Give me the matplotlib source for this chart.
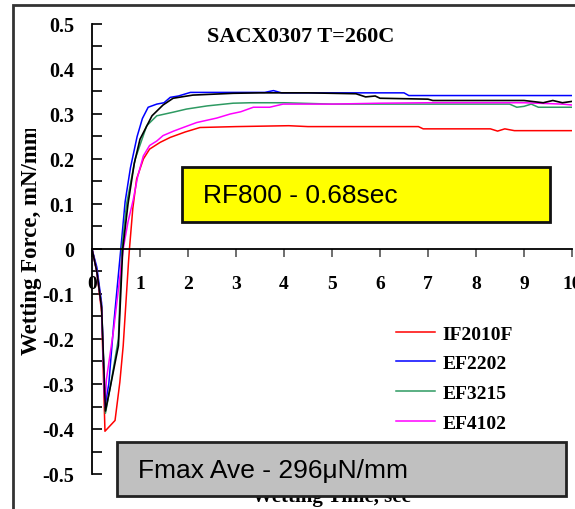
"""Wetting balance curves, SACX0307 at 260C."""
import numpy as np
import matplotlib
matplotlib.use('Agg')
import matplotlib.pyplot as plt
import matplotlib.patches as mpatches
from matplotlib.transforms import Bbox, TransformedBbox

SERIF = 'Liberation Serif'
SANS = 'Liberation Sans'

# ── data (time s, force mN/mm) ────────────────────────────────────────────────
t_if2010f = [0, 0.1, 0.2, 0.27, 0.48, 0.58, 0.65, 0.76, 0.78, 0.85, 0.93, 1.07,
             1.2, 1.42, 1.63, 1.94, 2.25, 3.0, 4.1, 4.5, 6.8, 6.9, 8.3, 8.45,
             8.6, 8.8, 10]
f_if2010f = [0, -0.05, -0.14, -0.405, -0.381, -0.296, -0.215, -0.03, 0, 0.09,
             0.156, 0.2, 0.222, 0.237, 0.248, 0.26, 0.27, 0.272, 0.274, 0.272,
             0.272, 0.267, 0.267, 0.262, 0.267, 0.263, 0.263]

t_ef2202 = [0, 0.1, 0.2, 0.27, 0.35, 0.45, 0.6, 0.69, 0.8, 0.94, 1.05, 1.17,
            1.35, 1.5, 1.63, 1.8, 2.05, 2.5, 3.0, 3.6, 3.78, 3.95, 5.0, 6.5,
            6.6, 7.0, 8.0, 9.0, 10]
f_ef2202 = [0, -0.04, -0.12, -0.35, -0.3, -0.17, 0, 0.105, 0.18, 0.25, 0.29,
            0.315, 0.322, 0.325, 0.337, 0.34, 0.348, 0.348, 0.348, 0.348,
            0.352, 0.347, 0.347, 0.347, 0.341, 0.341, 0.341, 0.341, 0.341]

t_black = [0, 0.1, 0.2, 0.28, 0.375, 0.55, 0.64, 0.75, 0.88, 1.0, 1.25, 1.48,
           1.69, 2.1, 2.94, 3.5, 4.5, 5.5, 5.7, 5.9, 6.0, 7.0, 7.1, 8.0, 9.0,
           9.4, 9.6, 9.8, 10]
f_black = [0, -0.05, -0.13, -0.36, -0.31, -0.215, 0, 0.1, 0.19, 0.244, 0.296,
           0.32, 0.335, 0.342, 0.346, 0.347, 0.347, 0.345, 0.338, 0.34, 0.335,
           0.333, 0.33, 0.33, 0.33, 0.325, 0.33, 0.325, 0.328]

t_ef3215 = [0, 0.1, 0.2, 0.28, 0.375, 0.55, 0.62, 0.72, 0.9, 1.14, 1.35, 1.69,
            1.97, 2.4, 2.94, 3.3, 4.0, 5.0, 6.0, 7.0, 8.0, 8.7, 8.85, 9.0,
            9.15, 9.3, 10]
f_ef3215 = [0, -0.05, -0.13, -0.365, -0.31, -0.2, 0, 0.1, 0.2, 0.274, 0.296,
            0.304, 0.311, 0.318, 0.324, 0.325, 0.325, 0.322, 0.322, 0.322,
            0.322, 0.322, 0.315, 0.317, 0.322, 0.315, 0.315]

t_ef4102 = [0, 0.1, 0.2, 0.27, 0.3, 0.45, 0.65, 0.75, 0.86, 0.95, 1.07, 1.2,
            1.35, 1.48, 1.7, 1.9, 2.18, 2.6, 2.88, 3.1, 3.36, 3.7, 3.98, 5.0,
            6.0, 7.0, 8.0, 9.0, 9.8, 10]
f_ef4102 = [0, -0.05, -0.13, -0.35, -0.29, -0.18, 0, 0.06, 0.11, 0.16, 0.207,
            0.23, 0.24, 0.252, 0.262, 0.27, 0.281, 0.291, 0.3, 0.305, 0.315,
            0.315, 0.322, 0.322, 0.324, 0.325, 0.325, 0.325, 0.322, 0.32]

x_ticks = list(range(0, 11))
y_ticks = [0.5, 0.4, 0.3, 0.2, 0.1, 0, -0.1, -0.2, -0.3, -0.4, -0.5]
y_tick_labels = ['0.5', '0.4', '0.3', '0.2', '0.1', '0', '-0.1', '-0.2', '-0.3',
                 '-0.4', '-0.5']

W, H = 575, 510
fig = plt.figure(figsize=(W / 100, H / 100), dpi=100)
ax = fig.add_axes([92 / W, 35 / H, 480 / W, 450 / H])

ax.plot(t_if2010f, f_if2010f, color='#ff0000', lw=1.1, label='IF2010F')
ax.plot(t_ef2202, f_ef2202, color='#0000ff', lw=1.1, label='EF2202')
ax.plot(t_ef3215, f_ef3215, color='#2e9a62', lw=1.1, label='EF3215')
ax.plot(t_ef4102, f_ef4102, color='#ff00ff', lw=1.1, label='EF4102')
ax.plot(t_black, f_black, color='black', lw=1.2)

ax.set_xlim(0, 10)
ax.set_ylim(-0.5, 0.5)
for s in ['top', 'right']:
    ax.spines[s].set_visible(False)
ax.spines['bottom'].set_position(('data', 0))
ax.spines['left'].set_linewidth(1.3)
ax.spines['bottom'].set_linewidth(1.3)

ax.set_xticks(x_ticks)
ax.set_xticklabels([str(v) for v in x_ticks], fontfamily=SERIF,
                   fontweight='bold', fontsize=14)
ax.set_yticks(y_ticks)
ax.set_yticklabels(y_tick_labels, fontfamily=SERIF, fontweight='bold',
                   fontsize=14.5)
ax.set_yticks(np.arange(-0.45, 0.5, 0.1), minor=True)
ax.tick_params(axis='x', direction='out', length=6, width=1.2, color='#555555',
               pad=13)
ax.tick_params(axis='y', which='both', direction='in', length=7, width=1.2,
               pad=13)

ax.legend(loc='upper left', bbox_to_anchor=(396 / W, 1 - 326 / H),
          bbox_transform=fig.transFigure, frameon=False, borderpad=0,
          borderaxespad=0, handlelength=2.0, handletextpad=0.4,
          labelspacing=0.62, prop=dict(family=SERIF, weight='bold', size=14))

fig.text(301 / W, 1 - 37 / H, 'SACX0307 T=260C', ha='center', va='center',
         fontfamily=SERIF, fontweight='bold', fontsize=16)

ylab = fig.text(32 / W, 1 - 355 / H, 'Wetting Force, mN/mm', rotation=90,
                ha='center', va='bottom', fontfamily=SERIF, fontweight='bold',
                fontsize=16.5)
ylab.set_clip_box(TransformedBbox(Bbox([[0, 0], [1, 1 - 130 / H]]),
                                  fig.transFigure))
ylab.set_clip_on(True)

fig.text(331 / W, 1 - 497 / H, 'Wetting Time, sec', ha='center', va='center',
         fontfamily=SERIF, fontweight='bold', fontsize=15, zorder=3)

# annotation boxes
fig.patches.append(mpatches.Rectangle((182 / W, 1 - 223 / H), 368 / W, 55 / H,
                                      transform=fig.transFigure,
                                      facecolor='#ffff00', edgecolor='#111111',
                                      lw=2, zorder=5))
fig.text(203 / W, 1 - 196 / H, 'RF800 - 0.68sec', ha='left', va='center',
         fontfamily=SANS, fontsize=19, zorder=6)

fig.patches.append(mpatches.Rectangle((117 / W, 1 - 497 / H), 449 / W, 54 / H,
                                      transform=fig.transFigure,
                                      facecolor='#c0c0c0', edgecolor='#222222',
                                      lw=2, zorder=5))
fig.text(138 / W, 1 - 471 / H, 'Fmax Ave - 296\u03bcN/mm', ha='left',
         va='center', fontfamily=SANS, fontsize=19, zorder=6)

# outer frame, running off the right and bottom edges
fig.patches.append(mpatches.Rectangle((13 / W, -0.1), 1.2, 1.1 - 6 / H,
                                      transform=fig.transFigure, fill=False,
                                      edgecolor='#333333', lw=2, zorder=1))

fig.savefig('out.png', dpi=100)
print("out.png saved")
